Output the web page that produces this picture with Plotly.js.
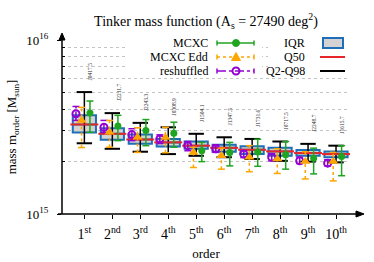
<!DOCTYPE html>
<html><head><meta charset="utf-8">
<script src="https://cdn.plot.ly/plotly-3.0.1.min.js"></script>
<style>html,body{margin:0;padding:0;background:#fff;} #chart{width:374px;height:262px;}</style>
</head><body><div id="chart"></div>
<script>
// ---- data (masses in units of 1e15 Msun) ----
const categories = [1, 2, 3, 4, 5, 6, 7, 8, 9, 10];
const tickLabels = ['1<sup>st</sup>','2<sup>nd</sup>','3<sup>rd</sup>','4<sup>th</sup>','5<sup>th</sup>',
                    '6<sup>th</sup>','7<sup>th</sup>','8<sup>th</sup>','9<sup>th</sup>','10<sup>th</sup>'];
const clusterNames = ['J0417.5','J2211.7','J2243.3','J0308.9','J1504.1','J1347.5','J1731.6','J0717.5','J2248.7','J1615.7'];

const q25 = [2.94, 2.67, 2.53, 2.44, 2.37, 2.28, 2.21, 2.16, 2.16, 2.12];
const q50 = [3.27, 2.89, 2.68, 2.58, 2.47, 2.40, 2.34, 2.29, 2.24, 2.21];
const q75 = [3.69, 3.11, 2.86, 2.70, 2.61, 2.50, 2.45, 2.40, 2.33, 2.29];
const q02 = [2.55, 2.37, 2.28, 2.21, 2.16, 2.12, 2.07, 2.02, 2.00, 1.98];
const q98 = [5.02, 3.80, 3.34, 3.15, 2.89, 2.76, 2.70, 2.61, 2.53, 2.47];

const mcxc   = [3.80, 3.20, 3.02, 2.91, 2.31, 2.26, 2.27, 2.19, 2.09, 2.14];
const mcxcLo = [2.95, 2.64, 2.47, 2.42, 2.00, 1.89, 1.88, 1.81, 1.70, 1.66];
const mcxcHi = [4.46, 3.69, 3.49, 3.37, 2.58, 2.58, 2.69, 2.61, 2.39, 2.47];

const edd   = [3.45, 2.95, 2.76, 2.75, 2.26, 2.16, 2.12, 2.07, 2.00, 2.00];
const eddLo = [2.41, 2.42, 2.26, 2.25, 1.85, 1.81, 1.75, 1.71, 1.59, 1.55];
const eddHi = [4.10, 3.45, 3.13, 3.15, 2.42, 2.39, 2.47, 2.37, 2.28, 2.26];

const resh   = [3.77, 3.15, 2.86, 2.70, 2.47, 2.37, 2.21, 2.12, 2.02, 1.96];
const reshLo = [3.45, 2.94, 2.64, 2.54, 2.31, 2.26, 2.11, 2.02, 1.95, 1.89];
const reshHi = [4.15, 3.45, 3.09, 2.85, 2.61, 2.50, 2.31, 2.22, 2.12, 2.05];

const yMajorVals = [1, 10];
const yMajorText = ['10<sup>15</sup>', '10<sup>16</sup>'];
const yMinorVals = [2, 3, 4, 5, 6, 7, 8, 9];

// ---- helpers ----
const UNIT = 1e15;
const sc = a => a.map(v => v * UNIT);
function segs(xs, lo, hi, dx) {
  const x = [], y = [];
  xs.forEach((c, i) => { x.push(c + dx, c + dx, null); y.push(lo[i] * UNIT, hi[i] * UNIT, null); });
  return {x, y};
}
const shift = (xs, dx) => xs.map(c => c + dx);

const SERIF = 'Liberation Serif, Times New Roman, serif';
const GREEN = '#1fa51f', ORANGE = '#ffa500', PURPLE = '#9400d3', BLUE = '#1f6fb8', RED = '#e8262a';

function errSeries(vals, lo, hi, dx, color, dash, marker) {
  const s = segs(categories, lo, hi, dx);
  const xs = shift(categories, dx);
  return [
    {type:'scatter', mode:'lines', x:s.x, y:s.y, line:{color:color, width:1.5, dash:dash}, hoverinfo:'skip', showlegend:false},
    {type:'scatter', mode:'markers', x:xs.concat(xs), y:sc(lo).concat(sc(hi)),
     marker:{symbol:'line-ew-open', size:5, color:color, line:{color:color, width:1.5}}, hoverinfo:'skip', showlegend:false},
    {type:'scatter', mode:'markers', x:xs, y:sc(vals), marker:marker, hoverinfo:'skip', showlegend:false}
  ];
}

const wh = segs(categories, q02, q98, 0);
const traces = [
  {type:'scatter', mode:'lines', x:wh.x, y:wh.y, line:{color:'#000', width:1.5}, hoverinfo:'skip', showlegend:false},
  {type:'scatter', mode:'markers', x:categories.concat(categories), y:sc(q02).concat(sc(q98)),
   marker:{symbol:'line-ew-open', size:11, color:'#000', line:{color:'#000', width:2}}, hoverinfo:'skip', showlegend:false},
  {type:'box', x:categories, q1:sc(q25), median:sc(q50), q3:sc(q75), lowerfence:sc(q25), upperfence:sc(q75),
   width:0.83, fillcolor:'#d3d3d3', line:{color:BLUE, width:2}, boxpoints:false, hoverinfo:'skip', showlegend:false},
  {type:'scatter', mode:'markers', x:categories, y:sc(q50),
   marker:{symbol:'line-ew-open', size:20, color:RED, line:{color:RED, width:2}}, hoverinfo:'skip', showlegend:false}
].concat(
  errSeries(resh, reshLo, reshHi, -0.3, PURPLE, 'dashdot', {symbol:'circle-open', size:7, color:PURPLE, line:{color:PURPLE, width:2}}),
  errSeries(edd, eddLo, eddHi, -0.1, ORANGE, 'dot', {symbol:'triangle-up', size:9, color:ORANGE, line:{width:0}}),
  errSeries(mcxc, mcxcLo, mcxcHi, 0.2, GREEN, 'solid', {symbol:'circle', size:7, color:GREEN, line:{width:0}})
);

// ---- layout ----
const L = 62, R = 350, T = 40, B = 214;
const xp = px => (px - L) / (R - L);
const yp = py => (B - py) / (B - T);

const shapes = [];
const annotations = [];
function hline(x0, x1, y, color, width, dash) {
  shapes.push({type:'line', xref:'paper', yref:'paper', x0:xp(x0), x1:xp(x1), y0:yp(y), y1:yp(y),
               line:{color:color, width:width, dash:dash || 'solid'}, layer:'above'});
}
function vline(x, y0, y1, color, width) {
  shapes.push({type:'line', xref:'paper', yref:'paper', x0:xp(x), x1:xp(x), y0:yp(y0), y1:yp(y1),
               line:{color:color, width:width}, layer:'above'});
}
function label(text, x, y) {
  annotations.push({xref:'paper', yref:'paper', x:xp(x), y:yp(y), xanchor:'right', yanchor:'middle',
                    text:text, showarrow:false, font:{family:SERIF, size:12, color:'#000'}});
}
// legend backgrounds
shapes.push({type:'rect', xref:'paper', yref:'paper', x0:xp(128), x1:xp(262), y0:yp(76), y1:yp(33),
             fillcolor:'#fff', line:{width:0}, layer:'above'});
shapes.push({type:'rect', xref:'paper', yref:'paper', x0:xp(268), x1:xp(352), y0:yp(76), y1:yp(33),
             fillcolor:'#fff', line:{width:0}, layer:'above'});
// left legend
const rows = [43, 57, 71];
const lx0 = 217, lx1 = 254, lm = 236;
[[GREEN,'solid'],[ORANGE,'dot'],[PURPLE,'dashdot']].forEach((c, i) => {
  hline(lx0, lx1, rows[i], c[0], 1.5, c[1]);
  vline(lx0, rows[i]-2.5, rows[i]+2.5, c[0], 1.5);
  vline(lx1, rows[i]-2.5, rows[i]+2.5, c[0], 1.5);
});
shapes.push({type:'circle', xref:'paper', yref:'paper', xsizemode:'pixel', ysizemode:'pixel',
             xanchor:xp(lm), yanchor:yp(rows[0]), x0:-3.5, x1:3.5, y0:-3.5, y1:3.5,
             fillcolor:GREEN, line:{color:GREEN, width:1}, layer:'above'});
shapes.push({type:'path', xref:'paper', yref:'paper', xsizemode:'pixel', ysizemode:'pixel',
             xanchor:xp(lm), yanchor:yp(rows[1]), path:'M -4.5 -3.5 L 4.5 -3.5 L 0 4.5 Z',
             fillcolor:ORANGE, line:{color:ORANGE, width:1}, layer:'above'});
shapes.push({type:'circle', xref:'paper', yref:'paper', xsizemode:'pixel', ysizemode:'pixel',
             xanchor:xp(lm), yanchor:yp(rows[2]), x0:-3.5, x1:3.5, y0:-3.5, y1:3.5,
             line:{color:PURPLE, width:2}, layer:'above'});
label('MCXC', 210, rows[0]); label('MCXC Edd', 210, rows[1]); label('reshuffled', 210, rows[2]);
// right legend
shapes.push({type:'rect', xref:'paper', yref:'paper', x0:xp(323), x1:xp(343), y0:yp(48), y1:yp(38),
             fillcolor:'#d3d3d3', line:{color:BLUE, width:2}, layer:'above'});
hline(320, 345, rows[1], RED, 2);
hline(320, 345, rows[2], '#000', 2);
label('IQR', 307, rows[0]); label('Q50', 307, rows[1]); label('Q2-Q98', 307, rows[2]);

// axis arrows (shapes)
vline(L, B, 36, '#000', 1.5);
shapes.push({type:'path', xref:'paper', yref:'paper', xsizemode:'pixel', ysizemode:'pixel',
             xanchor:0, yanchor:yp(33), path:'M -3 -7 L 3 -7 L 0 0 Z', fillcolor:'#000', line:{color:'#000', width:1}, layer:'above'});
hline(L - 4, 358, B, '#000', 1.5);
shapes.push({type:'path', xref:'paper', yref:'paper', xsizemode:'pixel', ysizemode:'pixel',
             xanchor:xp(364), yanchor:0, path:'M -8 -3 L -8 3 L 0 0 Z', fillcolor:'#000', line:{color:'#000', width:1}, layer:'above'});

// cluster name labels
categories.forEach((c, i) => {
  annotations.push({x:c + 0.21, y:Math.log10(q98[i] * UNIT), xref:'x', yref:'y', text:clusterNames[i],
                    textangle:-90, showarrow:false, xanchor:'center', yanchor:'bottom', yshift:10,
                    font:{family:SERIF, size:5.5, color:'#333'}});
});

const layout = {
  width:374, height:262,
  margin:{l:L, r:374 - R, t:T, b:262 - B},
  paper_bgcolor:'#fff', plot_bgcolor:'#fff',
  font:{family:SERIF, color:'#000'},
  title:{text:'Tinker mass function (A<sub>s</sub> = 27490 deg<sup>2</sup>)', font:{family:SERIF, size:14, color:'#000'},
         x:0.5, xref:'paper', y:1 - 21/262, yref:'container', yanchor:'middle'},
  xaxis:{range:[0.2, 10.5], tickvals:categories, ticktext:tickLabels, ticks:'outside', ticklen:4, tickwidth:1,
         tickcolor:'#000', showline:false, showgrid:false, zeroline:false, ticklabelstandoff:3,
         tickfont:{family:SERIF, size:14, color:'#000'},
         title:{text:'order', font:{family:SERIF, size:13, color:'#000'}, standoff:8}},
  yaxis:{type:'log', range:[15, 16], tickvals:sc(yMajorVals), ticktext:yMajorText, ticks:'outside', ticklen:4,
         tickwidth:1, tickcolor:'#000', showline:false, ticklabelstandoff:6,
         showgrid:true, gridcolor:'#c4c4c4', griddash:'dot', gridwidth:1, zeroline:false,
         minor:{tickvals:sc(yMinorVals), ticks:'inside', ticklen:3, tickcolor:'#000', showgrid:true,
                gridcolor:'#c4c4c4', griddash:'dot', gridwidth:1},
         tickfont:{family:SERIF, size:13, color:'#000'},
         title:{text:'mass m<sub>order</sub> [M<sub>sun</sub>]', font:{family:SERIF, size:13, color:'#000'}, standoff:6}},
  shapes:shapes, annotations:annotations, showlegend:false
};
Plotly.newPlot('chart', traces, layout, {displayModeBar:false, staticPlot:true});
</script></body></html>
